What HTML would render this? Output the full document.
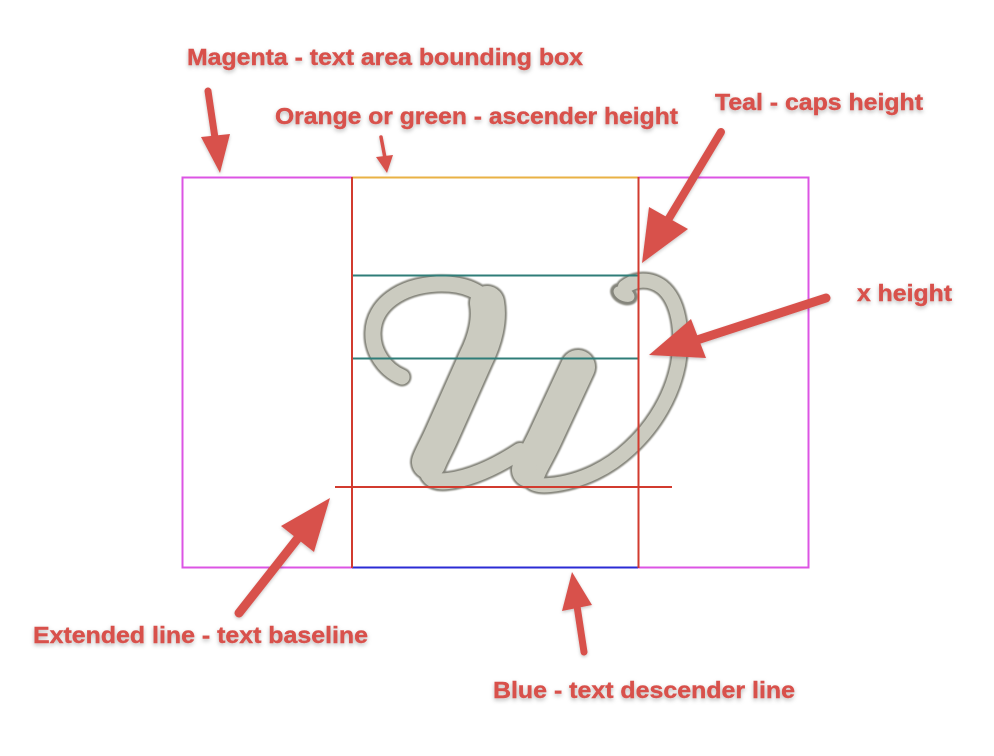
<!DOCTYPE html>
<html>
<head>
<meta charset="utf-8">
<style>
  html, body { margin: 0; padding: 0; background: #ffffff; }
  svg { display: block; }
  .lbl { font-family: "Liberation Sans", Arial, sans-serif; font-weight: bold; font-size: 23.5px; fill: #d8514c; stroke: #d8514c; stroke-width: 0.4px; }
</style>
</head>
<body>
<svg width="994" height="756" viewBox="0 0 994 756" xmlns="http://www.w3.org/2000/svg">
  <defs>
    <filter id="sh" x="-20%" y="-50%" width="140%" height="200%">
      <feDropShadow dx="0" dy="2" stdDeviation="2" flood-color="#000" flood-opacity="0.28"/>
    </filter>
    <filter id="ash" x="-30%" y="-30%" width="160%" height="160%">
      <feDropShadow dx="0" dy="1.5" stdDeviation="1.5" flood-color="#000" flood-opacity="0.22"/>
    </filter>
    <filter id="gl" x="-10%" y="-10%" width="120%" height="120%">
      <feGaussianBlur stdDeviation="0.8"/>
    </filter>
  </defs>

  <rect width="994" height="756" fill="#ffffff"/>

  <!-- Glyph "w" : outlines -->
  <g fill="none" stroke="#85857b" stroke-linecap="round" stroke-linejoin="round" filter="url(#gl)">
    <path d="M 402,377 C 385,370 372,352 373,332 C 374,305 400,286 437,284 C 465,283 483,292 489,305" stroke-width="19"/>
    <path d="M 487,303 C 490,320 485,340 476,358 L 443,432 C 436,448 431,456 429,462" stroke-width="38"/>
    <path d="M 428,460 C 424,476 432,483 448,481 C 472,478 497,466 520,451" stroke-width="20"/>
    <path d="M 578,367 L 545,438 C 537,455 531,464 529,470" stroke-width="38"/>
    <path d="M 530,466 C 524,480 532,487 550,485 C 582,482 610,467 630,448 C 655,425 672,395 678,365 C 684,330 678,300 662,287 C 650,278 635,279 625,287" stroke-width="18"/>
    <ellipse cx="624" cy="294" rx="13" ry="9" transform="rotate(25 624 294)" stroke-width="3" fill="#85857b"/>
  </g>
  <!-- Glyph fills -->
  <g fill="none" stroke="#cbcbc0" stroke-linecap="round" stroke-linejoin="round">
    <path d="M 402,377 C 385,370 372,352 373,332 C 374,305 400,286 437,284 C 465,283 483,292 489,305" stroke-width="15"/>
    <path d="M 487,303 C 490,320 485,340 476,358 L 443,432 C 436,448 431,456 429,462" stroke-width="34"/>
    <path d="M 428,460 C 424,476 432,483 448,481 C 472,478 497,466 520,451" stroke-width="16"/>
    <path d="M 578,367 L 545,438 C 537,455 531,464 529,470" stroke-width="34"/>
    <path d="M 530,466 C 524,480 532,487 550,485 C 582,482 610,467 630,448 C 655,425 672,395 678,365 C 684,330 678,300 662,287 C 650,278 635,279 625,287" stroke-width="14"/>
    <ellipse cx="624" cy="294" rx="11" ry="7" transform="rotate(25 624 294)" stroke="none" fill="#cbcbc0"/>
  </g>

  <!-- Guide lines -->
  <g stroke-width="2" fill="none">
    <rect x="182.5" y="177.5" width="626" height="390" stroke="#dc55e4"/>
    <line x1="352" y1="177.5" x2="638" y2="177.5" stroke="#e9b245"/>
    <line x1="352" y1="567.5" x2="638" y2="567.5" stroke="#2b2bd4"/>
    <line x1="352" y1="275.5" x2="638" y2="275.5" stroke="#2f7d78"/>
    <line x1="352" y1="358.5" x2="638" y2="358.5" stroke="#2f7d78"/>
    <line x1="352" y1="177" x2="352" y2="568" stroke="#d23b2f"/>
    <line x1="638.5" y1="177" x2="638.5" y2="568" stroke="#d23b2f"/>
    <line x1="335" y1="487" x2="672" y2="487" stroke="#d23b2f"/>
  </g>

  <!-- Arrows -->
  <g fill="#d8514c" stroke="#d8514c" stroke-linecap="round" filter="url(#ash)">
    <line x1="208" y1="91" x2="215" y2="138" stroke-width="7"/>
    <polygon points="201,137 230,134 220,173" stroke="none"/>
    <line x1="381" y1="137" x2="385" y2="158" stroke-width="3.5"/>
    <polygon points="376,157 393,155 387,173" stroke="none"/>
    <line x1="721" y1="132" x2="668" y2="220" stroke-width="8"/>
    <polygon points="649,207 688,229 642,263" stroke="none"/>
    <line x1="826" y1="298" x2="697" y2="340" stroke-width="9"/>
    <polygon points="691,319 706,358 649,355" stroke="none"/>
    <line x1="239" y1="613" x2="298" y2="538" stroke-width="9"/>
    <polygon points="281,526 314,552 330,498" stroke="none"/>
    <line x1="584" y1="652" x2="577" y2="606" stroke-width="7"/>
    <polygon points="562,611 592,605 572,572" stroke="none"/>
  </g>

  <!-- Labels -->
  <g filter="url(#sh)">
    <text class="lbl" x="187" y="65" textLength="396" lengthAdjust="spacingAndGlyphs">Magenta - text area bounding box</text>
    <text class="lbl" x="275" y="124" textLength="403" lengthAdjust="spacingAndGlyphs">Orange or green - ascender height</text>
    <text class="lbl" x="715" y="110" textLength="208" lengthAdjust="spacingAndGlyphs">Teal - caps height</text>
    <text class="lbl" x="857" y="301" textLength="95" lengthAdjust="spacingAndGlyphs">x height</text>
    <text class="lbl" x="33" y="643" textLength="335" lengthAdjust="spacingAndGlyphs">Extended line - text baseline</text>
    <text class="lbl" x="493" y="698" textLength="302" lengthAdjust="spacingAndGlyphs">Blue - text descender line</text>
  </g>
</svg>
</body>
</html>
